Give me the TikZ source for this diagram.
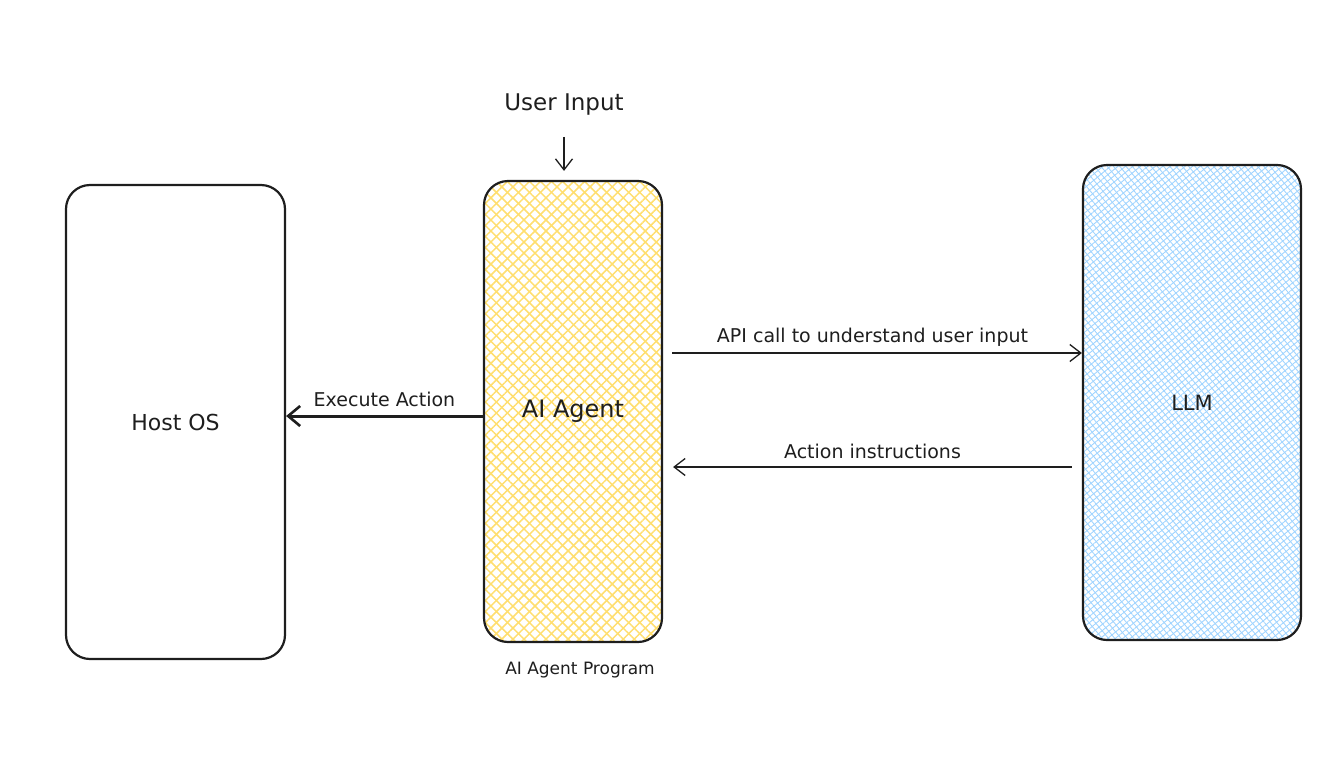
\documentclass[tikz,border=0pt]{standalone}
\usepackage{fontspec}
\setmainfont{DejaVu Sans}
\usetikzlibrary{arrows.meta,patterns.meta}
\definecolor{ink}{RGB}{30,30,30}
\definecolor{hatchY}{RGB}{255,222,110}
\definecolor{hatchB}{RGB}{160,212,255}
\tikzset{
  box/.style={draw=ink, line width=2.2pt, rounded corners=24pt, inner sep=0pt},
  agentbox/.style={box,
    preaction={pattern={Lines[angle=45,distance=7.8pt,line width=1.5pt]}, pattern color=hatchY},
    preaction={pattern={Lines[angle=-45,distance=7.8pt,line width=1.5pt]}, pattern color=hatchY}},
  llmbox/.style={box,
    preaction={pattern={Lines[angle=40,distance=4.8pt,line width=0.9pt]}, pattern color=hatchB},
    preaction={pattern={Lines[angle=-50,distance=4.8pt,line width=0.9pt]}, pattern color=hatchB}},
  lbl/.style={text=ink, inner sep=0pt, font=\fontsize{19}{23}\selectfont},
  thinarrow/.style={draw=ink, line width=1.3pt, -{Straight Barb[length=11pt,width=17pt,line width=1.3pt]}},
  heavyarrow/.style={draw=ink, line width=3pt, -{Straight Barb[length=12pt,width=20pt,line width=2.6pt]}}
}
\begin{document}
\begin{tikzpicture}[x=1pt, y=-1pt]
         \useasboundingbox (0,0) rectangle (1336,766);
         \node (Host) [box, minimum width=219pt, minimum height=474pt] at (175.5, 422) {}; 
         \node (Agent) [agentbox, minimum width=178pt, minimum height=461pt] at (573, 411.5) {}; 
         \node (LLM) [llmbox, minimum width=218pt, minimum height=475pt] at (1192, 402.5) {}; 
         \node [lbl, font=\fontsize{22}{26}\selectfont] at (Host) {Host OS}; 
         \node [lbl, font=\fontsize{24}{28}\selectfont] at (Agent) {AI Agent}; 
         \node [lbl, font=\fontsize{21}{25}\selectfont] at (LLM) {LLM}; 
         \node (Input) [lbl, font=\fontsize{23}{27}\selectfont] at (564, 105) {User Input}; 
         \node (Prog) [lbl, font=\fontsize{17}{20}\selectfont] at (580, 670) {AI Agent Program}; 
         \draw [thinarrow, shorten <=21pt, shorten >=9pt] (Input.south) -- (Input.south |- Agent.north); 
         \draw [heavyarrow] ([yshift=-4.5pt]Agent.west) -- node [lbl, above=8pt] {Execute Action} ([yshift=-4.5pt]Agent.west -| Host.east); 
         \draw [thinarrow, shorten <=9pt] ([yshift=58.5pt]Agent.east) -- node [lbl, above=6pt] {API call to understand user input} ([yshift=58.5pt]Agent.east -| LLM.west); 
         \draw [thinarrow, shorten <=10pt, shorten >=10pt] ([yshift=-55.5pt]Agent.east -| LLM.west) -- node [lbl, above=8pt] {Action instructions} ([yshift=-55.5pt]Agent.east); 
 \end{tikzpicture}
\end{document}
